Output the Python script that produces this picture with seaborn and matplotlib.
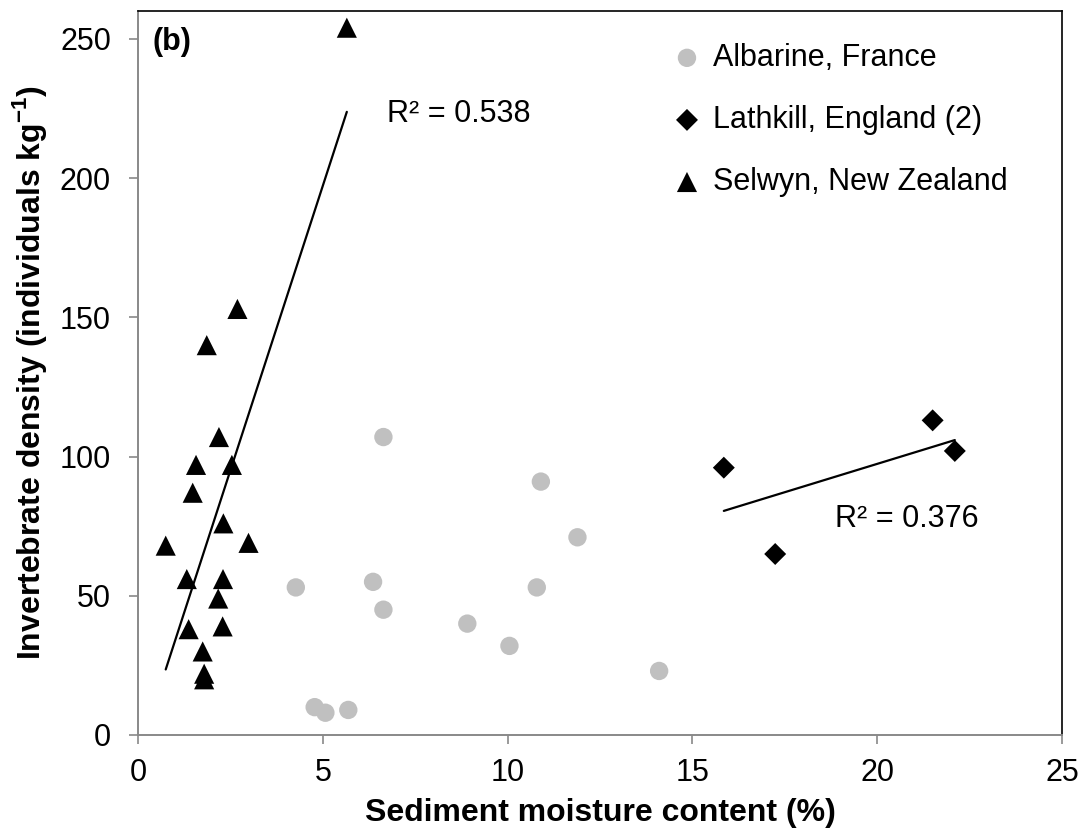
import numpy as np
import pandas as pd
import matplotlib
matplotlib.use("Agg")
import matplotlib.pyplot as plt
import seaborn as sns

# values
albarine_x = [6.64, 10.9, 11.89, 4.27, 6.36, 6.64, 10.79, 8.91, 10.05, 4.78, 5.07, 5.69, 14.1]
albarine_y = [107, 91, 71, 53, 55, 45, 53, 40, 32, 10, 8, 9, 23]

lathkill_x = [15.85, 17.24, 21.5, 22.1]
lathkill_y = [96, 65, 113, 102]

selwyn_x = [5.65, 2.69, 1.86, 2.19, 1.57, 2.54, 1.48, 2.31, 0.75, 2.99,
            1.32, 2.30, 2.17, 1.37, 2.29, 1.75, 1.79, 1.79]
selwyn_y = [254, 153, 140, 107, 97, 97, 87, 76, 68, 69,
            56, 56, 49, 38, 39, 30, 22, 20]

sites = ['Albarine, France', 'Lathkill, England (2)', 'Selwyn, New Zealand']
r2_labels = ['R² = 0.538', 'R² = 0.376']

df = pd.concat([
    pd.DataFrame({'x': albarine_x, 'y': albarine_y, 'site': sites[0]}),
    pd.DataFrame({'x': lathkill_x, 'y': lathkill_y, 'site': sites[1]}),
    pd.DataFrame({'x': selwyn_x, 'y': selwyn_y, 'site': sites[2]}),
], ignore_index=True)

sns.set_style("white")
plt.rcParams['font.family'] = ['Liberation Sans', 'DejaVu Sans']
plt.rcParams['mathtext.fontset'] = 'custom'
plt.rcParams['mathtext.rm'] = 'Liberation Sans'
plt.rcParams['mathtext.bf'] = 'Liberation Sans:bold'
plt.rcParams['text.color'] = 'black'
plt.rcParams['axes.labelcolor'] = 'black'
plt.rcParams['xtick.labelcolor'] = 'black'
plt.rcParams['ytick.labelcolor'] = 'black'

FS = 22

fig = plt.figure(figsize=(10.78, 8.39), dpi=100)
ax = fig.add_axes([138 / 1078, 1 - 735 / 839, (1062 - 138) / 1078, (735 - 11) / 839])

palette = {sites[0]: '#c0c0c0', sites[1]: 'black', sites[2]: 'black'}
markers = {sites[0]: 'o', sites[1]: 'D', sites[2]: '^'}
sizes = {sites[0]: 175, sites[1]: 125, sites[2]: 210}

for s in sites:
    sub = df[df['site'] == s]
    sns.scatterplot(data=sub, x='x', y='y', color=palette[s], marker=markers[s],
                    s=sizes[s], edgecolor='none', label=s, ax=ax, zorder=3)

# linear trendlines (Selwyn and Lathkill)
for s in [sites[2], sites[1]]:
    sub = df[df['site'] == s]
    sns.regplot(data=sub, x='x', y='y', scatter=False, ci=None, truncate=True,
                color='black', line_kws={'lw': 1.6}, ax=ax)

ax.text(6.73, 223, r2_labels[0], fontsize=FS, va='center', ha='left')
ax.text(18.86, 77.5, r2_labels[1], fontsize=FS, va='center', ha='left')
ax.text(0.38, 249, '(b)', fontsize=FS, fontweight='bold', va='center', ha='left')

ax.set_xlim(0, 25)
ax.set_ylim(0, 260)
ax.set_xticks([0, 5, 10, 15, 20, 25])
ax.set_yticks([0, 50, 100, 150, 200, 250])
ax.tick_params(axis='both', labelsize=FS, direction='out', length=6.5, width=1.2,
               color='#898989', bottom=True, left=True)
ax.tick_params(axis='x', pad=10)
ax.tick_params(axis='y', pad=13)

for side in ['left', 'bottom']:
    ax.spines[side].set_color('#898989')
    ax.spines[side].set_linewidth(1.4)
for side in ['top', 'right']:
    ax.spines[side].set_color('black')
    ax.spines[side].set_linewidth(1.2)

ax.set_xlabel('Sediment moisture content (%)', fontsize=23, fontweight='bold', labelpad=7)
ax.set_ylabel(r'Invertebrate density (individuals kg$^{\mathbf{-1}}$)', fontsize=23,
              fontweight='bold', labelpad=8)

leg = ax.legend(loc='upper left', bbox_to_anchor=(0.5776, 0.956), frameon=False,
                fontsize=FS, handlelength=1.0, handletextpad=0.35, labelspacing=1.05,
                markerscale=1.0, borderpad=0, borderaxespad=0)

fig.savefig('out.png', dpi=100)
